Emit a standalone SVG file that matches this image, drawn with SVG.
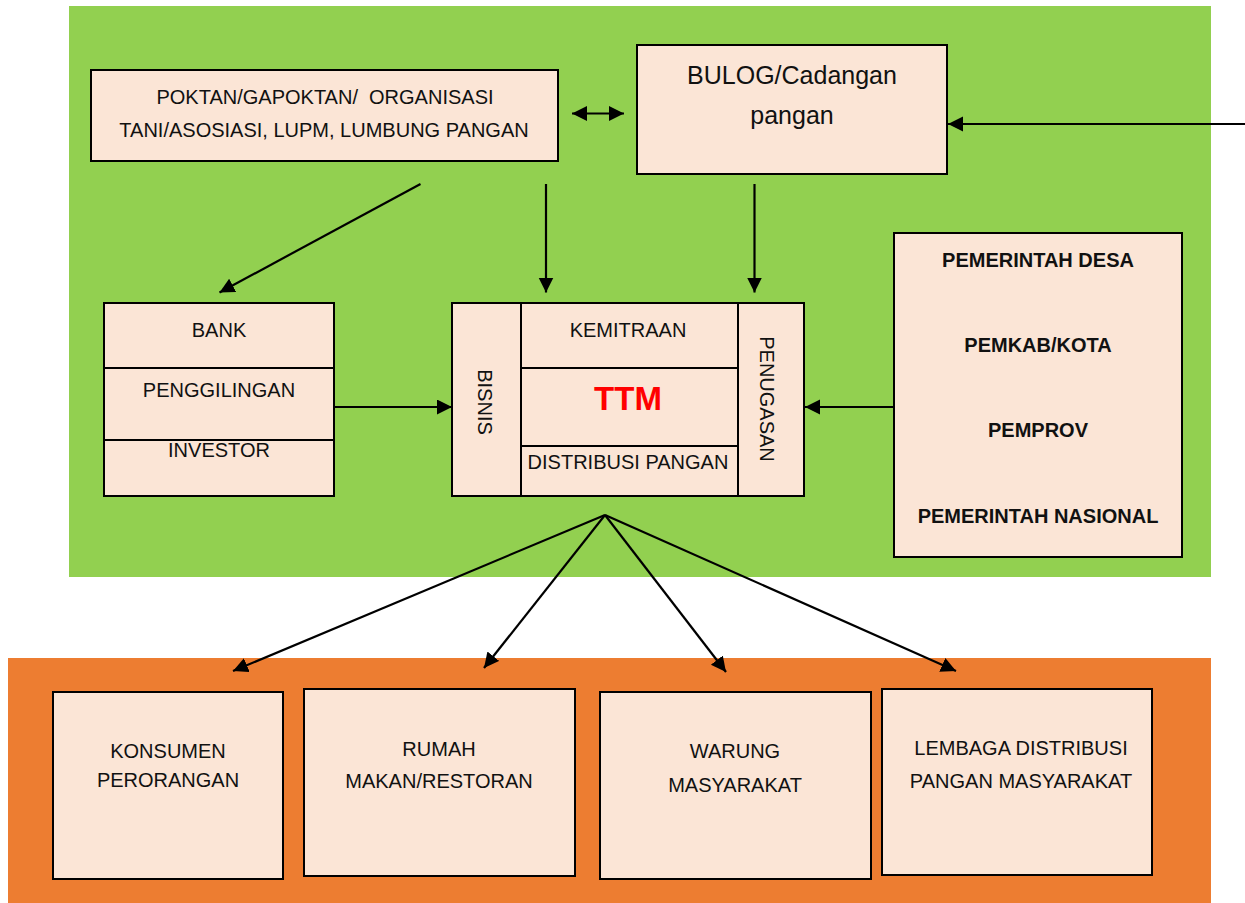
<svg xmlns="http://www.w3.org/2000/svg" width="1245" height="903" viewBox="0 0 1245 903">
<style>
.bg-green{fill:#92D050}
.bg-orange{fill:#ED7D31}
.box{fill:#FBE5D6;stroke:#000;stroke-width:2}
.div{stroke:#000;stroke-width:2;fill:none}
.t{font-family:"Liberation Sans",Arial,sans-serif;font-size:20px;fill:#111;text-anchor:middle}
.b{font-weight:bold}
.ttm{font-family:"Liberation Sans",Arial,sans-serif;font-size:33px;font-weight:bold;fill:#FF0000;text-anchor:middle}
.c{stroke:#000;stroke-width:2.2;fill:none;marker-end:url(#ah)}
</style>
<defs>
<marker id="ah" markerUnits="userSpaceOnUse" markerWidth="16" markerHeight="16" refX="15" refY="7.5" orient="auto">
<path d="M0,0 L15,7.5 L0,15 z" fill="#000"/>
</marker>
<marker id="ahs" markerUnits="userSpaceOnUse" markerWidth="16" markerHeight="16" refX="0" refY="7.5" orient="auto">
<path d="M15,0 L0,7.5 L15,15 z" fill="#000"/>
</marker>
</defs>
<rect class="bg-green" x="69" y="6" width="1142" height="571"/>
<rect class="bg-orange" x="8" y="658" width="1203" height="245"/>

<g id="poktan">
<rect class="box" x="91" y="70" width="467" height="91"/>
<text class="t" x="325" y="103.5" xml:space="preserve">POKTAN/GAPOKTAN/  ORGANISASI</text>
<text class="t" x="324" y="137">TANI/ASOSIASI, LUPM, LUMBUNG PANGAN</text>
</g>
<g id="bulog">
<rect class="box" x="637" y="45" width="310" height="129"/>
<text class="t" x="792" y="84" style="font-size:25px">BULOG/Cadangan</text>
<text class="t" x="792" y="124" style="font-size:25px">pangan</text>
</g>
<g id="bank">
<rect class="box" x="104" y="303" width="230" height="193"/>
<line class="div" x1="104" y1="368" x2="334" y2="368"/>
<line class="div" x1="104" y1="440" x2="334" y2="440"/>
<text class="t" x="219" y="337">BANK</text>
<text class="t" x="219" y="397">PENGGILINGAN</text>
<text class="t" x="219" y="457">INVESTOR</text>
</g>
<g id="ttm">
<rect class="box" x="452" y="303" width="352" height="193"/>
<line class="div" x1="521" y1="303" x2="521" y2="496"/>
<line class="div" x1="738" y1="303" x2="738" y2="496"/>
<line class="div" x1="521" y1="368" x2="738" y2="368"/>
<line class="div" x1="521" y1="446" x2="738" y2="446"/>
<text class="t" x="628" y="337">KEMITRAAN</text>
<text class="ttm" x="628" y="410">TTM</text>
<text class="t" x="628" y="469">DISTRIBUSI PANGAN</text>
<text class="t" x="0" y="0" transform="translate(478,402) rotate(90)">BISNIS</text>
<text class="t" x="0" y="0" transform="translate(760,399) rotate(90)">PENUGASAN</text>
</g>
<g id="pemerintah">
<rect class="box" x="894" y="233" width="288" height="324"/>
<text class="t b" x="1038" y="267">PEMERINTAH DESA</text>
<text class="t b" x="1038" y="352">PEMKAB/KOTA</text>
<text class="t b" x="1038" y="437">PEMPROV</text>
<text class="t b" x="1038" y="523">PEMERINTAH NASIONAL</text>
</g>
<g id="konsumen">
<rect class="box" x="53" y="692" width="230" height="187"/>
<text class="t" x="168" y="758">KONSUMEN</text>
<text class="t" x="168" y="787">PERORANGAN</text>
</g>
<g id="rumah">
<rect class="box" x="304" y="689" width="271" height="187"/>
<text class="t" x="439" y="756">RUMAH</text>
<text class="t" x="439" y="788">MAKAN/RESTORAN</text>
</g>
<g id="warung">
<rect class="box" x="600" y="692" width="271" height="187"/>
<text class="t" x="735" y="758">WARUNG</text>
<text class="t" x="735" y="792">MASYARAKAT</text>
</g>
<g id="lembaga">
<rect class="box" x="882" y="689" width="270" height="186"/>
<text class="t" x="1021" y="755">LEMBAGA DISTRIBUSI</text>
<text class="t" x="1021" y="788">PANGAN MASYARAKAT</text>
</g>

<g id="connectors">
<line class="c" x1="572" y1="113.5" x2="624" y2="113.5" marker-start="url(#ahs)"/>
<line class="c" x1="1245" y1="124" x2="948" y2="124"/>
<line class="c" x1="420.5" y1="184" x2="219.5" y2="292.5"/>
<line class="c" x1="546" y1="184" x2="546" y2="292.5"/>
<line class="c" x1="754.5" y1="184" x2="754.5" y2="292.5"/>
<line class="c" x1="334" y1="407" x2="452" y2="407"/>
<line class="c" x1="894" y1="407" x2="805" y2="407"/>
<line class="c" x1="605" y1="515" x2="233" y2="671"/>
<line class="c" x1="605" y1="515" x2="484" y2="668"/>
<line class="c" x1="605" y1="515" x2="726" y2="672"/>
<line class="c" x1="605" y1="515" x2="956" y2="671"/>
</g>
</svg>
